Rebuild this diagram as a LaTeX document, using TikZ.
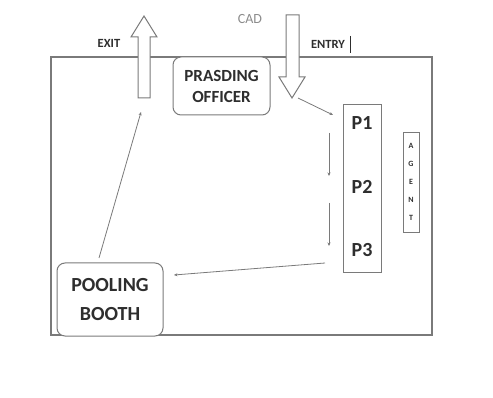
\documentclass[tikz,border=0pt]{standalone}
\usepackage{fontspec}
\setmainfont{Carlito}
\usetikzlibrary{arrows.meta}
\definecolor{ln}{HTML}{7A7A7A}
\definecolor{tx}{HTML}{2E2E2E}
\definecolor{cadc}{HTML}{8C8C8C}
\tikzset{
  frame/.style={draw=ln, line width=1.3pt},
  rbox/.style={draw=ln, line width=1pt, rounded corners=8pt, fill=white},
  pbox/.style={draw=ln, line width=1pt},
  bigarrow/.style={draw=ln, line width=1pt, fill=white, line join=miter},
  conn/.style={draw=ln, line width=0.8pt, -{Stealth[length=3.5pt,width=3pt]}},
  lbl/.style={text=tx, font=\bfseries, inner sep=0pt},
}
\begin{document}
\begin{tikzpicture}[x=1pt,y=-1pt]
\useasboundingbox (0,0) rectangle (493,398);
\fill[white] (0,0) rectangle (493,398);
% outer frame
\draw[frame] (51,57) rectangle (432,335);
% exit arrow (up)
\draw[bigarrow] (138,98) -- (138,37) -- (131,37) -- (144,16) -- (157,37) -- (150,37) -- (150,98) -- cycle;
\coordinate (exitbase) at (141,112);
% entry arrow (down)
\draw[bigarrow] (286,15) -- (286,77) -- (279,77) -- (292,98) -- (305,77) -- (299,77) -- (299,15) -- cycle;
\coordinate (entrytip) at (298,98);
% labels
\node[text=cadc, font=\fontsize{14}{16}\selectfont, inner sep=0pt] (cad) at (250,19) {CAD};
\node[text=tx, font=\bfseries\fontsize{12.5}{15}\selectfont, inner sep=0pt] (exit) at (109,43) {EXIT};
\node[text=tx, font=\bfseries\fontsize{12.5}{15}\selectfont, inner sep=0pt] (entry) at (328,44) {ENTRY};
\draw[tx, line width=0.8pt] (350,36) -- (350,53);
% presiding officer
\node[rbox, minimum width=97pt, minimum height=58pt, align=center, text=tx, font=\bfseries\fontsize{17}{21}\selectfont] (po) at (221.5,86) {PRASDING\\OFFICER};
% P box
\node[pbox, minimum width=38pt, minimum height=168pt, inner sep=0pt] (pcol) at (362,189) {};
\node[lbl, font=\bfseries\fontsize{20}{22}\selectfont] (p1) at (362,123) {P1};
\node[lbl, font=\bfseries\fontsize{20}{22}\selectfont] (p2) at (362,187) {P2};
\node[lbl, font=\bfseries\fontsize{20}{22}\selectfont] (p3) at (362,250) {P3};
% agent
\node[pbox, minimum width=16pt, minimum height=100pt, inner sep=0pt] (agent) at (411,183) {};
\node[lbl, font=\bfseries\fontsize{8}{9}\selectfont] (ga) at (411,146) {A};
\node[lbl, font=\bfseries\fontsize{8}{9}\selectfont] (gg) at (411,164) {G};
\node[lbl, font=\bfseries\fontsize{8}{9}\selectfont] (ge) at (411,182) {E};
\node[lbl, font=\bfseries\fontsize{8}{9}\selectfont] (gn) at (411,200) {N};
\node[lbl, font=\bfseries\fontsize{8}{9}\selectfont] (gt) at (411,218) {T};
% pooling booth
\node[rbox, minimum width=106pt, minimum height=73pt, align=center, text=tx, font=\bfseries\fontsize{20}{29}\selectfont] (pb) at (110,299.5) {POOLING\\BOOTH};
% connector coordinates
\coordinate (c1) at (333,115);
\coordinate (d1s) at (329,133);
\coordinate (d1e) at (329,176);
\coordinate (d2s) at (329,203);
\coordinate (d2e) at (329,246);
\coordinate (p3out) at (325,263);
\coordinate (pbin) at (174,275);
\coordinate (pbout) at (99,258);
% connectors
\draw[conn] (entrytip) -- (c1);
\draw[conn] (d1s) -- (d1e);
\draw[conn] (d2s) -- (d2e);
\draw[conn] (p3out) -- (pbin);
\draw[conn] (pbout) -- (exitbase);
\end{tikzpicture}
\end{document}
